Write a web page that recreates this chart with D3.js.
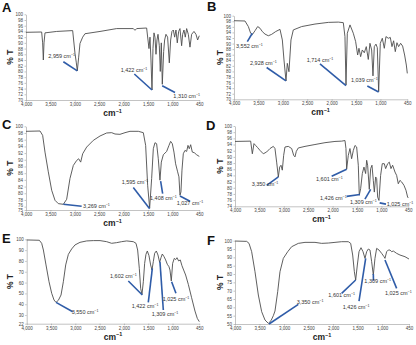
<!doctype html>
<html lang="en">
<head>
  <meta charset="utf-8">
  <title>FTIR spectra A-F</title>
  <script src="https://d3js.org/d3.v7.min.js"></script>
  <style>
    html, body { margin: 0; padding: 0; background: #fff; }
    svg { display: block; font-family: "Liberation Sans", Arial, sans-serif; }
    .spec { fill: none; stroke: #4d4d4d; stroke-width: 0.9; stroke-linejoin: round; }
    .callout { stroke: #2f5ca8; stroke-width: 1.6; }
    .axis path, .axis line { stroke: #9a9a9a; stroke-width: 0.6; }
    .axis text { font-size: 4.5px; fill: #444; }
    .peak { font-size: 5.5px; fill: #333; }
    .letter { font-size: 13px; font-weight: bold; fill: #111; }
    .ytitle, .xtitle { font-size: 8.5px; font-weight: bold; fill: #222; }
  </style>
</head>
<body>
  <svg id="chart" width="416" height="345"></svg>
  <script>
    // wavenumber (cm-1), % transmittance
    const specA = [[4000,93.7],[3679,93.8],[3659,90],[3645,84.0],[3631,90],[3611,93.5],[3372,94.0],[3044,94.3],[2996,86.3],[2969,83],[2949,80.2],[2921,85],[2894,89.8],[2839,92],[2792,93.2],[2484,94],[2143,95.0],[1802,95],[1767,94.4],[1733,95],[1529,95.2],[1501,91],[1481,88],[1460,92],[1440,84],[1419,73.5],[1399,88],[1378,93.5],[1358,92],[1337,86],[1317,91],[1296,93],[1269,89],[1249,80],[1228,90],[1208,75.5],[1180,87],[1160,91],[1133,93],[1099,92],[1064,83],[1037,91],[1010,94],[982,94.5],[955,92],[928,94.5],[901,90],[873,94],[846,95],[812,89],[791,93],[764,94.5],[737,92],[709,95],[675,93],[641,88.5],[607,93],[559,94],[518,93],[484,91],[450,92.5]];
    const specB = [[4000,98.2],[3775,98.1],[3706,96.1],[3659,93.7],[3625,93.2],[3570,94.6],[3515,96.1],[3467,95.5],[3420,94.3],[3365,93.4],[3297,92.8],[3229,93.3],[3147,94.3],[3058,95.1],[3010,91.3],[2976,84.1],[2935,76.6],[2908,82.9],[2874,79.9],[2833,91.3],[2785,94.9],[2614,96.1],[2341,97.0],[2068,97.6],[1863,97.7],[1761,97.5],[1727,92.5],[1706,75.1],[1679,93.7],[1624,96.7],[1556,93.7],[1508,90.7],[1467,85.9],[1440,88.3],[1406,85.3],[1372,87.7],[1331,86.7],[1290,88.9],[1249,84.3],[1215,90.1],[1180,87.7],[1153,78.4],[1126,88.9],[1092,89.8],[1064,88.5],[1037,72.7],[1003,90.1],[962,91.9],[921,88.3],[887,92.5],[839,91.9],[798,92.2],[764,88.9],[730,91.0],[696,87.1],[662,90.3],[628,88.9],[587,90.1],[546,89.1],[505,85.9],[470,82.3],[450,79.3]];
    const specC = [[4000,98.5],[3713,98.6],[3659,97.3],[3611,92.3],[3543,86.4],[3474,80.9],[3406,77.9],[3338,76.9],[3235,76.7],[3167,78.2],[3099,84.4],[3031,88.3],[2962,89.8],[2921,90.3],[2880,89.3],[2839,91.8],[2757,93.8],[2621,95.8],[2484,97.1],[2348,98.0],[2245,98.1],[2177,97.7],[2075,97.6],[1972,98.1],[1870,98.5],[1699,98.5],[1597,98.1],[1549,94.3],[1508,82.4],[1467,75.6],[1426,84.4],[1392,93.3],[1358,95.1],[1324,94.8],[1290,90.3],[1256,83.9],[1228,89.3],[1187,91.5],[1119,92.5],[1071,94.3],[1037,95.5],[1003,94.8],[969,92.3],[935,88.8],[894,86.4],[867,84.9],[846,79.4],[826,80.4],[805,86.9],[778,91.8],[744,92.8],[709,92.5],[682,94.3],[655,93.3],[627,94.5],[593,92.3],[552,92.1],[505,91.5],[450,91.0]];
    const specD = [[4000,95.0],[3679,95.1],[3645,91.0],[3611,94.3],[3577,93.7],[3536,93.0],[3488,92.1],[3420,91.0],[3351,91.6],[3283,92.7],[3215,93.4],[3181,92.7],[3147,88.3],[3112,83.5],[3085,86.7],[3058,87.3],[3031,85.7],[3003,90.5],[2976,93.2],[2908,93.4],[2839,92.7],[2798,90.5],[2771,90.0],[2744,91.8],[2703,92.9],[2566,93.4],[2362,94.0],[2157,94.6],[1952,95.0],[1815,95.1],[1747,95.3],[1727,92.7],[1713,86.0],[1679,90.5],[1645,92.7],[1611,89.4],[1576,92.1],[1542,93.7],[1508,93.2],[1474,87.3],[1454,77.6],[1426,79.7],[1392,84.6],[1358,86.7],[1324,84.6],[1303,88.9],[1283,87.3],[1249,79.5],[1221,86.2],[1194,87.3],[1167,82.4],[1146,78.6],[1119,83.5],[1098,83.0],[1078,77.0],[1051,75.9],[1017,84.0],[983,87.8],[942,87.8],[914,86.2],[873,87.8],[839,88.3],[805,86.2],[771,87.3],[723,85.1],[689,84.0],[655,81.3],[621,82.4],[587,81.9],[539,80.8],[498,79.2],[464,77.0],[450,76.7]];
    const specE = [[4000,99.4],[3740,99.1],[3692,96.3],[3657,90.1],[3603,76.3],[3541,60.8],[3486,50.1],[3438,43.9],[3397,41.7],[3349,43.6],[3294,48.5],[3246,60.8],[3198,76.3],[3143,86.1],[3075,91.1],[3006,94.8],[2904,97.2],[2766,98.5],[2629,98.8],[2492,98.8],[2355,97.8],[2253,96.3],[2150,96.9],[2047,97.8],[1944,98.5],[1807,97.8],[1752,96.3],[1718,90.1],[1684,73.2],[1656,54.7],[1629,49.1],[1601,60.8],[1574,77.8],[1547,86.1],[1519,89.2],[1485,84.9],[1451,76.3],[1423,71.6],[1396,79.3],[1368,87.1],[1334,89.2],[1300,85.5],[1266,78.7],[1238,83.0],[1211,86.4],[1176,84.0],[1142,80.9],[1108,76.9],[1074,74.7],[1053,71.6],[1026,61.5],[998,77.8],[964,82.4],[937,81.2],[909,83.0],[875,80.0],[841,80.9],[807,75.6],[772,71.6],[731,67.0],[676,58.4],[608,46.0],[539,33.7],[491,26.9],[450,23.9]];
    const specF = [[4000,99.8],[3762,99.6],[3714,98.4],[3660,93.4],[3592,81.4],[3524,67.4],[3456,57.4],[3388,52.4],[3320,50.4],[3265,52.0],[3218,55.0],[3184,57.8],[3129,69.4],[3082,81.4],[3014,89.4],[2925,93.4],[2844,96.4],[2708,98.4],[2572,99.0],[2368,99.0],[2232,98.4],[2096,98.6],[1960,99.0],[1824,99.4],[1688,99.4],[1640,98.4],[1599,91.4],[1565,81.4],[1538,76.4],[1504,85.4],[1470,93.4],[1429,95.8],[1388,93.4],[1348,89.4],[1314,93.4],[1280,95.0],[1246,94.4],[1212,87.4],[1178,79.4],[1144,89.4],[1110,95.4],[1062,94.4],[1008,92.4],[960,90.4],[940,89.4],[906,93.4],[872,94.4],[838,94.4],[804,93.4],[770,93.8],[702,92.4],[634,91.4],[532,90.4],[450,89.0]];

    // peak label, pointed wavenumber / %T, line end, label anchor
    const peaksA = [["2,959",2949,80.2,3235,83.4,3543,84.6],["1,422",1419,73.5,1781,79.1,2061,79.9],["1,310",1210,75.0,948,72.6,982,70.8]];
    const peaksB = [["3,552",3625,93.7,3727,90.7,3959,88.3],["2,928",2935,76.6,3331,81.4,3672,82.3],["1,714",1706,74.9,2239,82.7,2512,83.5],["1,039",1037,72.6,1269,74.8,1604,76.1]];
    const peaksC = [["3,269",3235,76.7,2860,76.1,2830,75.6],["1,595",1467,75.4,1802,81.7,2041,82.7],["1,408",1242,83.6,1201,79.9,1460,78.1],["1,027",846,79.2,641,77.6,914,76.4]];
    const peaksD = [["3,350",3112,83.5,3351,80.8,3659,80.5],["1,601",1713,86.0,2020,83.7,2341,82.1],["1,426",1440,77.8,1713,77.2,2259,76.2],["1,309",1221,79.5,1338,76.3,1645,74.6],["1,025",1037,75.1,907,74.7,894,74.2]];
    const peaksE = [["3,550",3397,41.7,3054,33.1,3075,30.9],["1,602",1622,48.5,1910,61.5,2287,63.9],["1,422",1416,73.2,1499,41.7,1841,36.8],["1,309",1259,79.3,1190,34.6,1430,29.1],["1,025",1019,60.8,930,50.1,1204,43.3]];
    const peaksF = [["3,350",3306,50.0,2708,61.8,2742,62.0],["1,601",1538,76.4,1824,68.4,2096,66.0],["1,426",1334,89.4,1470,63.8,1803,58.8],["1,309",1178,80.0,1175,76.0,1361,74.4],["1,025",940,88.4,702,71.4,940,67.4]];

    const xTicks = [4000, 3500, 3000, 2500, 2000, 1500, 1000, 450];
    const yTicksA = [100,98,96,94,92,90,88,86,84,82,80,78,76,74,72,70];
    const yTicksB = [100,98,96,94,92,90,88,86,84,82,80,78,76,74,72,70];
    const yTicksC = [100,98,96,94,92,90,88,86,84,82,80,78,76,75];
    const yTicksD = [100,98,96,94,92,90,88,86,84,82,80,78,76,74];
    const yTicksE = [100,90,80,70,60,50,40,30,22];
    const yTicksF = [100,95,90,85,80,75,70,65,60,55,50];

    const panels = [
      {name:"A", spec:specA, peaks:peaksA, yTicks:yTicksA, x0:26,   x1:199.3, y0:14.3,  y1:100,   lx:2,   ly:12,  tx:13},
      {name:"B", spec:specB, peaks:peaksB, yTicks:yTicksB, x0:234,  x1:407.3, y0:15.7,  y1:99.3,  lx:207, ly:11,  tx:223},
      {name:"C", spec:specC, peaks:peaksC, yTicks:yTicksC, x0:26,   x1:199.3, y0:126.3, y1:210,   lx:2,   ly:129, tx:13},
      {name:"D", spec:specD, peaks:peaksD, yTicks:yTicksD, x0:235,  x1:408.3, y0:126,   y1:206.3, lx:206, ly:130, tx:223},
      {name:"E", spec:specE, peaks:peaksE, yTicks:yTicksE, x0:26.7, x1:199.3, y0:239.3, y1:323.7, lx:2,   ly:243, tx:13},
      {name:"F", spec:specF, peaks:peaksF, yTicks:yTicksF, x0:235,  x1:409,   y0:240.7, y1:324,   lx:207, ly:245, tx:223}
    ];

    const svg = d3.select('#chart');

    panels.forEach(p => {
      const x = d3.scaleLinear().domain([4000, 450]).range([p.x0, p.x1]);
      const y = d3.scaleLinear().domain([d3.min(p.yTicks), 100]).range([p.y1, p.y0]);
      const g = svg.append('g');

      const yAxis = g.append('g').attr('class','axis')
        .attr('transform',`translate(${p.x0},0)`)
        .call(d3.axisLeft(y).tickValues(p.yTicks).tickSize(1.5).tickSizeOuter(0).tickPadding(1.5));
      // squeezed bottom labels (e.g. 76 / 75): lift the upper one a little
      const lo = p.yTicks[p.yTicks.length - 1], next = p.yTicks[p.yTicks.length - 2];
      if (y(lo) - y(next) < 5) {
        yAxis.selectAll('.tick').filter(d => d === next).select('text').attr('y', -1.6);
      }
      g.append('g').attr('class','axis')
        .attr('transform',`translate(0,${p.y1})`)
        .call(d3.axisBottom(x).tickValues(xTicks).tickFormat(d3.format(',')).tickSize(1.5).tickSizeOuter(0).tickPadding(1.5));

      const line = d3.line().x(d => x(d[0])).y(d => y(d[1]));
      g.append('path').datum(p.spec).attr('class','spec').attr('d', line);

      p.peaks.forEach(k => {
        g.append('line').attr('class','callout')
          .attr('x1', x(k[1])).attr('y1', y(k[2]))
          .attr('x2', x(k[3])).attr('y2', y(k[4]));
        const t = g.append('text').attr('class','peak')
          .attr('x', x(k[5])).attr('y', y(k[6]))
          .text(`${k[0]} cm`);
        t.append('tspan').attr('dy', -2).style('font-size','3.6px').text('\u22121');
      });

      g.append('text').attr('class','letter').attr('x', p.lx).attr('y', p.ly).text(p.name);

      g.append('text').attr('class','ytitle')
        .attr('transform', `translate(${p.tx},${(p.y0 + p.y1) / 2}) rotate(-90)`)
        .attr('text-anchor','middle').text('% T');

      const xt = g.append('text').attr('class','xtitle')
        .attr('x', (p.x0 + p.x1) / 2).attr('y', p.y1 + 16)
        .attr('text-anchor','middle').text('cm');
      xt.append('tspan').attr('dy', -3.5).style('font-size','5.5px').text('\u22121');
    });
  </script>
</body>
</html>
